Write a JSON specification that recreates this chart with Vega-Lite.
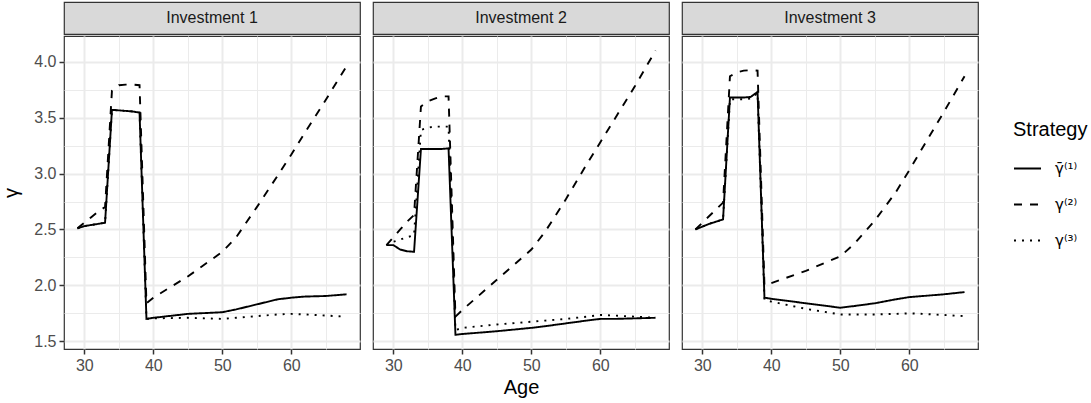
{
  "$schema": "https://vega.github.io/schema/vega-lite/v6.json",
  "padding": {"left": 1, "top": 1, "right": 0, "bottom": 2},
  "background": "white",
  "config": {
    "font": "Liberation Sans",
    "axis": {"domain": false, "gridColor": "#EBEBEB", "tickColor": "#333333", "tickSize": 5, "tickWidth": 1.5, "labelFontSize": 16, "labelColor": "#4D4D4D", "titleFontSize": 20, "titleFontWeight": "normal", "titleColor": "#000000", "labelPadding": 3},
    "view": {"stroke": "#333333", "strokeWidth": 1.2},
    "concat": {"spacing": 11}
  },
  "datasets": {
    "d": [
      {"panel": "Investment 1", "strategy": "γ̄⁽¹⁾", "age": 29, "gamma": 2.51},
      {"panel": "Investment 1", "strategy": "γ̄⁽¹⁾", "age": 30, "gamma": 2.53},
      {"panel": "Investment 1", "strategy": "γ̄⁽¹⁾", "age": 31, "gamma": 2.54},
      {"panel": "Investment 1", "strategy": "γ̄⁽¹⁾", "age": 32, "gamma": 2.55},
      {"panel": "Investment 1", "strategy": "γ̄⁽¹⁾", "age": 33, "gamma": 2.56},
      {"panel": "Investment 1", "strategy": "γ̄⁽¹⁾", "age": 34, "gamma": 3.57},
      {"panel": "Investment 1", "strategy": "γ̄⁽¹⁾", "age": 35, "gamma": 3.565},
      {"panel": "Investment 1", "strategy": "γ̄⁽¹⁾", "age": 36, "gamma": 3.56},
      {"panel": "Investment 1", "strategy": "γ̄⁽¹⁾", "age": 37, "gamma": 3.555},
      {"panel": "Investment 1", "strategy": "γ̄⁽¹⁾", "age": 38, "gamma": 3.545},
      {"panel": "Investment 1", "strategy": "γ̄⁽¹⁾", "age": 39, "gamma": 1.70},
      {"panel": "Investment 1", "strategy": "γ̄⁽¹⁾", "age": 40, "gamma": 1.71},
      {"panel": "Investment 1", "strategy": "γ̄⁽¹⁾", "age": 45, "gamma": 1.745},
      {"panel": "Investment 1", "strategy": "γ̄⁽¹⁾", "age": 50, "gamma": 1.76},
      {"panel": "Investment 1", "strategy": "γ̄⁽¹⁾", "age": 52, "gamma": 1.785},
      {"panel": "Investment 1", "strategy": "γ̄⁽¹⁾", "age": 55, "gamma": 1.83},
      {"panel": "Investment 1", "strategy": "γ̄⁽¹⁾", "age": 58, "gamma": 1.875},
      {"panel": "Investment 1", "strategy": "γ̄⁽¹⁾", "age": 60, "gamma": 1.89},
      {"panel": "Investment 1", "strategy": "γ̄⁽¹⁾", "age": 62, "gamma": 1.90},
      {"panel": "Investment 1", "strategy": "γ̄⁽¹⁾", "age": 65, "gamma": 1.905},
      {"panel": "Investment 1", "strategy": "γ̄⁽¹⁾", "age": 68, "gamma": 1.92},

      {"panel": "Investment 1", "strategy": "γ⁽²⁾", "age": 29, "gamma": 2.51},
      {"panel": "Investment 1", "strategy": "γ⁽²⁾", "age": 30, "gamma": 2.56},
      {"panel": "Investment 1", "strategy": "γ⁽²⁾", "age": 31, "gamma": 2.61},
      {"panel": "Investment 1", "strategy": "γ⁽²⁾", "age": 32, "gamma": 2.66},
      {"panel": "Investment 1", "strategy": "γ⁽²⁾", "age": 33, "gamma": 2.70},
      {"panel": "Investment 1", "strategy": "γ⁽²⁾", "age": 34, "gamma": 3.74},
      {"panel": "Investment 1", "strategy": "γ⁽²⁾", "age": 35, "gamma": 3.79},
      {"panel": "Investment 1", "strategy": "γ⁽²⁾", "age": 36, "gamma": 3.795},
      {"panel": "Investment 1", "strategy": "γ⁽²⁾", "age": 37, "gamma": 3.795},
      {"panel": "Investment 1", "strategy": "γ⁽²⁾", "age": 38, "gamma": 3.79},
      {"panel": "Investment 1", "strategy": "γ⁽²⁾", "age": 39, "gamma": 1.84},
      {"panel": "Investment 1", "strategy": "γ⁽²⁾", "age": 40, "gamma": 1.89},
      {"panel": "Investment 1", "strategy": "γ⁽²⁾", "age": 45, "gamma": 2.08},
      {"panel": "Investment 1", "strategy": "γ⁽²⁾", "age": 50, "gamma": 2.30},
      {"panel": "Investment 1", "strategy": "γ⁽²⁾", "age": 52, "gamma": 2.43},
      {"panel": "Investment 1", "strategy": "γ⁽²⁾", "age": 55, "gamma": 2.70},
      {"panel": "Investment 1", "strategy": "γ⁽²⁾", "age": 58, "gamma": 2.98},
      {"panel": "Investment 1", "strategy": "γ⁽²⁾", "age": 60, "gamma": 3.17},
      {"panel": "Investment 1", "strategy": "γ⁽²⁾", "age": 62, "gamma": 3.37},
      {"panel": "Investment 1", "strategy": "γ⁽²⁾", "age": 65, "gamma": 3.66},
      {"panel": "Investment 1", "strategy": "γ⁽²⁾", "age": 68, "gamma": 3.96},

      {"panel": "Investment 1", "strategy": "γ⁽³⁾", "age": 29, "gamma": 2.51},
      {"panel": "Investment 1", "strategy": "γ⁽³⁾", "age": 30, "gamma": 2.53},
      {"panel": "Investment 1", "strategy": "γ⁽³⁾", "age": 31, "gamma": 2.54},
      {"panel": "Investment 1", "strategy": "γ⁽³⁾", "age": 32, "gamma": 2.55},
      {"panel": "Investment 1", "strategy": "γ⁽³⁾", "age": 33, "gamma": 2.56},
      {"panel": "Investment 1", "strategy": "γ⁽³⁾", "age": 34, "gamma": 3.57},
      {"panel": "Investment 1", "strategy": "γ⁽³⁾", "age": 35, "gamma": 3.565},
      {"panel": "Investment 1", "strategy": "γ⁽³⁾", "age": 36, "gamma": 3.56},
      {"panel": "Investment 1", "strategy": "γ⁽³⁾", "age": 37, "gamma": 3.555},
      {"panel": "Investment 1", "strategy": "γ⁽³⁾", "age": 38, "gamma": 3.545},
      {"panel": "Investment 1", "strategy": "γ⁽³⁾", "age": 39, "gamma": 1.70},
      {"panel": "Investment 1", "strategy": "γ⁽³⁾", "age": 40, "gamma": 1.705},
      {"panel": "Investment 1", "strategy": "γ⁽³⁾", "age": 45, "gamma": 1.71},
      {"panel": "Investment 1", "strategy": "γ⁽³⁾", "age": 50, "gamma": 1.70},
      {"panel": "Investment 1", "strategy": "γ⁽³⁾", "age": 52, "gamma": 1.71},
      {"panel": "Investment 1", "strategy": "γ⁽³⁾", "age": 55, "gamma": 1.725},
      {"panel": "Investment 1", "strategy": "γ⁽³⁾", "age": 58, "gamma": 1.74},
      {"panel": "Investment 1", "strategy": "γ⁽³⁾", "age": 60, "gamma": 1.745},
      {"panel": "Investment 1", "strategy": "γ⁽³⁾", "age": 62, "gamma": 1.74},
      {"panel": "Investment 1", "strategy": "γ⁽³⁾", "age": 65, "gamma": 1.73},
      {"panel": "Investment 1", "strategy": "γ⁽³⁾", "age": 68, "gamma": 1.72},

      {"panel": "Investment 2", "strategy": "γ̄⁽¹⁾", "age": 29, "gamma": 2.36},
      {"panel": "Investment 2", "strategy": "γ̄⁽¹⁾", "age": 30, "gamma": 2.36},
      {"panel": "Investment 2", "strategy": "γ̄⁽¹⁾", "age": 31, "gamma": 2.32},
      {"panel": "Investment 2", "strategy": "γ̄⁽¹⁾", "age": 32, "gamma": 2.305},
      {"panel": "Investment 2", "strategy": "γ̄⁽¹⁾", "age": 33, "gamma": 2.30},
      {"panel": "Investment 2", "strategy": "γ̄⁽¹⁾", "age": 34, "gamma": 3.22},
      {"panel": "Investment 2", "strategy": "γ̄⁽¹⁾", "age": 35, "gamma": 3.22},
      {"panel": "Investment 2", "strategy": "γ̄⁽¹⁾", "age": 36, "gamma": 3.22},
      {"panel": "Investment 2", "strategy": "γ̄⁽¹⁾", "age": 37, "gamma": 3.22},
      {"panel": "Investment 2", "strategy": "γ̄⁽¹⁾", "age": 38, "gamma": 3.225},
      {"panel": "Investment 2", "strategy": "γ̄⁽¹⁾", "age": 39, "gamma": 1.558},
      {"panel": "Investment 2", "strategy": "γ̄⁽¹⁾", "age": 40, "gamma": 1.565},
      {"panel": "Investment 2", "strategy": "γ̄⁽¹⁾", "age": 45, "gamma": 1.59},
      {"panel": "Investment 2", "strategy": "γ̄⁽¹⁾", "age": 50, "gamma": 1.62},
      {"panel": "Investment 2", "strategy": "γ̄⁽¹⁾", "age": 52, "gamma": 1.635},
      {"panel": "Investment 2", "strategy": "γ̄⁽¹⁾", "age": 55, "gamma": 1.66},
      {"panel": "Investment 2", "strategy": "γ̄⁽¹⁾", "age": 58, "gamma": 1.685},
      {"panel": "Investment 2", "strategy": "γ̄⁽¹⁾", "age": 60, "gamma": 1.70},
      {"panel": "Investment 2", "strategy": "γ̄⁽¹⁾", "age": 62, "gamma": 1.70},
      {"panel": "Investment 2", "strategy": "γ̄⁽¹⁾", "age": 65, "gamma": 1.705},
      {"panel": "Investment 2", "strategy": "γ̄⁽¹⁾", "age": 68, "gamma": 1.71},

      {"panel": "Investment 2", "strategy": "γ⁽²⁾", "age": 29, "gamma": 2.36},
      {"panel": "Investment 2", "strategy": "γ⁽²⁾", "age": 30, "gamma": 2.43},
      {"panel": "Investment 2", "strategy": "γ⁽²⁾", "age": 31, "gamma": 2.50},
      {"panel": "Investment 2", "strategy": "γ⁽²⁾", "age": 32, "gamma": 2.57},
      {"panel": "Investment 2", "strategy": "γ⁽²⁾", "age": 33, "gamma": 2.63},
      {"panel": "Investment 2", "strategy": "γ⁽²⁾", "age": 34, "gamma": 3.60},
      {"panel": "Investment 2", "strategy": "γ⁽²⁾", "age": 35, "gamma": 3.645},
      {"panel": "Investment 2", "strategy": "γ⁽²⁾", "age": 36, "gamma": 3.67},
      {"panel": "Investment 2", "strategy": "γ⁽²⁾", "age": 37, "gamma": 3.69},
      {"panel": "Investment 2", "strategy": "γ⁽²⁾", "age": 38, "gamma": 3.69},
      {"panel": "Investment 2", "strategy": "γ⁽²⁾", "age": 39, "gamma": 1.72},
      {"panel": "Investment 2", "strategy": "γ⁽²⁾", "age": 40, "gamma": 1.78},
      {"panel": "Investment 2", "strategy": "γ⁽²⁾", "age": 45, "gamma": 2.05},
      {"panel": "Investment 2", "strategy": "γ⁽²⁾", "age": 50, "gamma": 2.32},
      {"panel": "Investment 2", "strategy": "γ⁽²⁾", "age": 52, "gamma": 2.48},
      {"panel": "Investment 2", "strategy": "γ⁽²⁾", "age": 55, "gamma": 2.77},
      {"panel": "Investment 2", "strategy": "γ⁽²⁾", "age": 58, "gamma": 3.08},
      {"panel": "Investment 2", "strategy": "γ⁽²⁾", "age": 60, "gamma": 3.28},
      {"panel": "Investment 2", "strategy": "γ⁽²⁾", "age": 62, "gamma": 3.48},
      {"panel": "Investment 2", "strategy": "γ⁽²⁾", "age": 65, "gamma": 3.78},
      {"panel": "Investment 2", "strategy": "γ⁽²⁾", "age": 68, "gamma": 4.10},

      {"panel": "Investment 2", "strategy": "γ⁽³⁾", "age": 29, "gamma": 2.36},
      {"panel": "Investment 2", "strategy": "γ⁽³⁾", "age": 30, "gamma": 2.39},
      {"panel": "Investment 2", "strategy": "γ⁽³⁾", "age": 31, "gamma": 2.41},
      {"panel": "Investment 2", "strategy": "γ⁽³⁾", "age": 32, "gamma": 2.43},
      {"panel": "Investment 2", "strategy": "γ⁽³⁾", "age": 33, "gamma": 2.45},
      {"panel": "Investment 2", "strategy": "γ⁽³⁾", "age": 34, "gamma": 3.39},
      {"panel": "Investment 2", "strategy": "γ⁽³⁾", "age": 35, "gamma": 3.41},
      {"panel": "Investment 2", "strategy": "γ⁽³⁾", "age": 36, "gamma": 3.42},
      {"panel": "Investment 2", "strategy": "γ⁽³⁾", "age": 37, "gamma": 3.42},
      {"panel": "Investment 2", "strategy": "γ⁽³⁾", "age": 38, "gamma": 3.42},
      {"panel": "Investment 2", "strategy": "γ⁽³⁾", "age": 39, "gamma": 1.60},
      {"panel": "Investment 2", "strategy": "γ⁽³⁾", "age": 40, "gamma": 1.62},
      {"panel": "Investment 2", "strategy": "γ⁽³⁾", "age": 45, "gamma": 1.65},
      {"panel": "Investment 2", "strategy": "γ⁽³⁾", "age": 50, "gamma": 1.675},
      {"panel": "Investment 2", "strategy": "γ⁽³⁾", "age": 52, "gamma": 1.685},
      {"panel": "Investment 2", "strategy": "γ⁽³⁾", "age": 55, "gamma": 1.70},
      {"panel": "Investment 2", "strategy": "γ⁽³⁾", "age": 58, "gamma": 1.72},
      {"panel": "Investment 2", "strategy": "γ⁽³⁾", "age": 60, "gamma": 1.735},
      {"panel": "Investment 2", "strategy": "γ⁽³⁾", "age": 62, "gamma": 1.73},
      {"panel": "Investment 2", "strategy": "γ⁽³⁾", "age": 65, "gamma": 1.72},
      {"panel": "Investment 2", "strategy": "γ⁽³⁾", "age": 68, "gamma": 1.71},

      {"panel": "Investment 3", "strategy": "γ̄⁽¹⁾", "age": 29, "gamma": 2.50},
      {"panel": "Investment 3", "strategy": "γ̄⁽¹⁾", "age": 30, "gamma": 2.525},
      {"panel": "Investment 3", "strategy": "γ̄⁽¹⁾", "age": 31, "gamma": 2.55},
      {"panel": "Investment 3", "strategy": "γ̄⁽¹⁾", "age": 32, "gamma": 2.57},
      {"panel": "Investment 3", "strategy": "γ̄⁽¹⁾", "age": 33, "gamma": 2.59},
      {"panel": "Investment 3", "strategy": "γ̄⁽¹⁾", "age": 34, "gamma": 3.68},
      {"panel": "Investment 3", "strategy": "γ̄⁽¹⁾", "age": 35, "gamma": 3.68},
      {"panel": "Investment 3", "strategy": "γ̄⁽¹⁾", "age": 36, "gamma": 3.68},
      {"panel": "Investment 3", "strategy": "γ̄⁽¹⁾", "age": 37, "gamma": 3.685},
      {"panel": "Investment 3", "strategy": "γ̄⁽¹⁾", "age": 38, "gamma": 3.73},
      {"panel": "Investment 3", "strategy": "γ̄⁽¹⁾", "age": 39, "gamma": 1.89},
      {"panel": "Investment 3", "strategy": "γ̄⁽¹⁾", "age": 40, "gamma": 1.88},
      {"panel": "Investment 3", "strategy": "γ̄⁽¹⁾", "age": 45, "gamma": 1.84},
      {"panel": "Investment 3", "strategy": "γ̄⁽¹⁾", "age": 50, "gamma": 1.80},
      {"panel": "Investment 3", "strategy": "γ̄⁽¹⁾", "age": 52, "gamma": 1.815},
      {"panel": "Investment 3", "strategy": "γ̄⁽¹⁾", "age": 55, "gamma": 1.84},
      {"panel": "Investment 3", "strategy": "γ̄⁽¹⁾", "age": 58, "gamma": 1.875},
      {"panel": "Investment 3", "strategy": "γ̄⁽¹⁾", "age": 60, "gamma": 1.895},
      {"panel": "Investment 3", "strategy": "γ̄⁽¹⁾", "age": 62, "gamma": 1.905},
      {"panel": "Investment 3", "strategy": "γ̄⁽¹⁾", "age": 65, "gamma": 1.92},
      {"panel": "Investment 3", "strategy": "γ̄⁽¹⁾", "age": 68, "gamma": 1.94},

      {"panel": "Investment 3", "strategy": "γ⁽²⁾", "age": 29, "gamma": 2.50},
      {"panel": "Investment 3", "strategy": "γ⁽²⁾", "age": 30, "gamma": 2.56},
      {"panel": "Investment 3", "strategy": "γ⁽²⁾", "age": 31, "gamma": 2.62},
      {"panel": "Investment 3", "strategy": "γ⁽²⁾", "age": 32, "gamma": 2.68},
      {"panel": "Investment 3", "strategy": "γ⁽²⁾", "age": 33, "gamma": 2.74},
      {"panel": "Investment 3", "strategy": "γ⁽²⁾", "age": 34, "gamma": 3.87},
      {"panel": "Investment 3", "strategy": "γ⁽²⁾", "age": 35, "gamma": 3.905},
      {"panel": "Investment 3", "strategy": "γ⁽²⁾", "age": 36, "gamma": 3.92},
      {"panel": "Investment 3", "strategy": "γ⁽²⁾", "age": 37, "gamma": 3.925},
      {"panel": "Investment 3", "strategy": "γ⁽²⁾", "age": 38, "gamma": 3.92},
      {"panel": "Investment 3", "strategy": "γ⁽²⁾", "age": 39, "gamma": 2.00},
      {"panel": "Investment 3", "strategy": "γ⁽²⁾", "age": 40, "gamma": 2.02},
      {"panel": "Investment 3", "strategy": "γ⁽²⁾", "age": 45, "gamma": 2.13},
      {"panel": "Investment 3", "strategy": "γ⁽²⁾", "age": 50, "gamma": 2.26},
      {"panel": "Investment 3", "strategy": "γ⁽²⁾", "age": 52, "gamma": 2.37},
      {"panel": "Investment 3", "strategy": "γ⁽²⁾", "age": 55, "gamma": 2.58},
      {"panel": "Investment 3", "strategy": "γ⁽²⁾", "age": 58, "gamma": 2.83},
      {"panel": "Investment 3", "strategy": "γ⁽²⁾", "age": 60, "gamma": 3.03},
      {"panel": "Investment 3", "strategy": "γ⁽²⁾", "age": 62, "gamma": 3.24},
      {"panel": "Investment 3", "strategy": "γ⁽²⁾", "age": 65, "gamma": 3.55},
      {"panel": "Investment 3", "strategy": "γ⁽²⁾", "age": 68, "gamma": 3.87},

      {"panel": "Investment 3", "strategy": "γ⁽³⁾", "age": 29, "gamma": 2.50},
      {"panel": "Investment 3", "strategy": "γ⁽³⁾", "age": 30, "gamma": 2.525},
      {"panel": "Investment 3", "strategy": "γ⁽³⁾", "age": 31, "gamma": 2.55},
      {"panel": "Investment 3", "strategy": "γ⁽³⁾", "age": 32, "gamma": 2.57},
      {"panel": "Investment 3", "strategy": "γ⁽³⁾", "age": 33, "gamma": 2.59},
      {"panel": "Investment 3", "strategy": "γ⁽³⁾", "age": 34, "gamma": 3.665},
      {"panel": "Investment 3", "strategy": "γ⁽³⁾", "age": 35, "gamma": 3.665},
      {"panel": "Investment 3", "strategy": "γ⁽³⁾", "age": 36, "gamma": 3.665},
      {"panel": "Investment 3", "strategy": "γ⁽³⁾", "age": 37, "gamma": 3.67},
      {"panel": "Investment 3", "strategy": "γ⁽³⁾", "age": 38, "gamma": 3.72},
      {"panel": "Investment 3", "strategy": "γ⁽³⁾", "age": 39, "gamma": 1.87},
      {"panel": "Investment 3", "strategy": "γ⁽³⁾", "age": 40, "gamma": 1.855},
      {"panel": "Investment 3", "strategy": "γ⁽³⁾", "age": 45, "gamma": 1.79},
      {"panel": "Investment 3", "strategy": "γ⁽³⁾", "age": 50, "gamma": 1.74},
      {"panel": "Investment 3", "strategy": "γ⁽³⁾", "age": 52, "gamma": 1.74},
      {"panel": "Investment 3", "strategy": "γ⁽³⁾", "age": 55, "gamma": 1.74},
      {"panel": "Investment 3", "strategy": "γ⁽³⁾", "age": 58, "gamma": 1.745},
      {"panel": "Investment 3", "strategy": "γ⁽³⁾", "age": 60, "gamma": 1.75},
      {"panel": "Investment 3", "strategy": "γ⁽³⁾", "age": 62, "gamma": 1.745},
      {"panel": "Investment 3", "strategy": "γ⁽³⁾", "age": 65, "gamma": 1.735},
      {"panel": "Investment 3", "strategy": "γ⁽³⁾", "age": 68, "gamma": 1.725}
    ]
  },
  "hconcat": [
    {
      "spacing": 0,
      "vconcat": [
        {
          "width": 296, "height": 32,
          "view": {"fill": "#D9D9D9", "stroke": "#333333", "strokeWidth": 1.2},
          "data": {"values": [{"label": "Investment 1"}]},
          "mark": {"type": "text", "fontSize": 16, "color": "#1A1A1A"},
          "encoding": {"text": {"field": "label", "type": "nominal"}}
        },
        {
          "width": 296, "height": 313,
          "data": {"name": "d"},
          "transform": [{"filter": "datum.panel === 'Investment 1'"}],
          "mark": {"type": "line", "color": "black", "strokeWidth": 1.9, "clip": true},
          "encoding": {
            "x": {"field": "age", "type": "quantitative", "scale": {"domain": [27.05, 69.95], "nice": false, "zero": false},
              "axis": {"values": [30, 35, 40, 45, 50, 55, 60, 65], "labelExpr": "datum.value % 10 === 0 ? datum.label : ''", "tickOpacity": {"condition": {"test": "datum.value % 10 === 0", "value": 1}, "value": 0}, "gridWidth": {"condition": {"test": "datum.value % 10 === 0", "value": 2}, "value": 1}, "labelOverlap": false, "labelFlush": false, "title": null}},
            "y": {"field": "gamma", "type": "quantitative", "scale": {"domain": [1.431, 4.23], "nice": false, "zero": false},
              "axis": {"values": [1.5, 1.75, 2, 2.25, 2.5, 2.75, 3, 3.25, 3.5, 3.75, 4], "format": ".1f", "labelExpr": "(datum.value * 2) % 1 === 0 ? datum.label : ''", "tickOpacity": {"condition": {"test": "(datum.value * 2) % 1 === 0", "value": 1}, "value": 0}, "gridWidth": {"condition": {"test": "(datum.value * 2) % 1 === 0", "value": 2}, "value": 1}, "labelOverlap": false, "labelFlush": false, "title": "γ", "titlePadding": 12}},
            "strokeDash": {"field": "strategy", "type": "nominal", "scale": {"domain": ["γ̄⁽¹⁾", "γ⁽²⁾", "γ⁽³⁾"], "range": [[1, 0], [8, 8], [2, 6]]},
              "legend": {"title": "Strategy", "orient": "none", "legendX": 949, "legendY": 118, "titleFontSize": 20, "titleFontWeight": "normal", "titleColor": "black", "titlePadding": 14, "labelFont": "DejaVu Sans", "labelFontSize": 15, "labelColor": "black", "symbolSize": 729, "symbolStrokeWidth": 2, "symbolStrokeColor": "black", "symbolType": "stroke", "rowPadding": 13, "labelOffset": 13}}
          }
        }
      ]
    },
    {
      "spacing": 0,
      "vconcat": [
        {
          "width": 296, "height": 32,
          "view": {"fill": "#D9D9D9", "stroke": "#333333", "strokeWidth": 1.2},
          "data": {"values": [{"label": "Investment 2"}]},
          "mark": {"type": "text", "fontSize": 16, "color": "#1A1A1A"},
          "encoding": {"text": {"field": "label", "type": "nominal"}}
        },
        {
          "width": 296, "height": 313,
          "data": {"name": "d"},
          "transform": [{"filter": "datum.panel === 'Investment 2'"}],
          "mark": {"type": "line", "color": "black", "strokeWidth": 1.9, "clip": true},
          "encoding": {
            "x": {"field": "age", "type": "quantitative", "scale": {"domain": [27.05, 69.95], "nice": false, "zero": false},
              "axis": {"values": [30, 35, 40, 45, 50, 55, 60, 65], "labelExpr": "datum.value % 10 === 0 ? datum.label : ''", "tickOpacity": {"condition": {"test": "datum.value % 10 === 0", "value": 1}, "value": 0}, "gridWidth": {"condition": {"test": "datum.value % 10 === 0", "value": 2}, "value": 1}, "labelOverlap": false, "labelFlush": false, "title": "Age", "titlePadding": 4}},
            "y": {"field": "gamma", "type": "quantitative", "scale": {"domain": [1.431, 4.23], "nice": false, "zero": false},
              "axis": {"values": [1.5, 1.75, 2, 2.25, 2.5, 2.75, 3, 3.25, 3.5, 3.75, 4], "labels": false, "ticks": false, "gridWidth": {"condition": {"test": "(datum.value * 2) % 1 === 0", "value": 2}, "value": 1}, "title": null}},
            "strokeDash": {"field": "strategy", "type": "nominal", "scale": {"domain": ["γ̄⁽¹⁾", "γ⁽²⁾", "γ⁽³⁾"], "range": [[1, 0], [8, 8], [2, 6]]},
              "legend": {"title": "Strategy", "orient": "none", "legendX": 949, "legendY": 118, "titleFontSize": 20, "titleFontWeight": "normal", "titleColor": "black", "titlePadding": 14, "labelFont": "DejaVu Sans", "labelFontSize": 15, "labelColor": "black", "symbolSize": 729, "symbolStrokeWidth": 2, "symbolStrokeColor": "black", "symbolType": "stroke", "rowPadding": 13, "labelOffset": 13}}
          }
        }
      ]
    },
    {
      "spacing": 0,
      "vconcat": [
        {
          "width": 296, "height": 32,
          "view": {"fill": "#D9D9D9", "stroke": "#333333", "strokeWidth": 1.2},
          "data": {"values": [{"label": "Investment 3"}]},
          "mark": {"type": "text", "fontSize": 16, "color": "#1A1A1A"},
          "encoding": {"text": {"field": "label", "type": "nominal"}}
        },
        {
          "width": 296, "height": 313,
          "data": {"name": "d"},
          "transform": [{"filter": "datum.panel === 'Investment 3'"}],
          "mark": {"type": "line", "color": "black", "strokeWidth": 1.9, "clip": true},
          "encoding": {
            "x": {"field": "age", "type": "quantitative", "scale": {"domain": [27.05, 69.95], "nice": false, "zero": false},
              "axis": {"values": [30, 35, 40, 45, 50, 55, 60, 65], "labelExpr": "datum.value % 10 === 0 ? datum.label : ''", "tickOpacity": {"condition": {"test": "datum.value % 10 === 0", "value": 1}, "value": 0}, "gridWidth": {"condition": {"test": "datum.value % 10 === 0", "value": 2}, "value": 1}, "labelOverlap": false, "labelFlush": false, "title": null}},
            "y": {"field": "gamma", "type": "quantitative", "scale": {"domain": [1.431, 4.23], "nice": false, "zero": false},
              "axis": {"values": [1.5, 1.75, 2, 2.25, 2.5, 2.75, 3, 3.25, 3.5, 3.75, 4], "labels": false, "ticks": false, "gridWidth": {"condition": {"test": "(datum.value * 2) % 1 === 0", "value": 2}, "value": 1}, "title": null}},
            "strokeDash": {"field": "strategy", "type": "nominal", "scale": {"domain": ["γ̄⁽¹⁾", "γ⁽²⁾", "γ⁽³⁾"], "range": [[1, 0], [8, 8], [2, 6]]},
              "legend": {"title": "Strategy", "orient": "none", "legendX": 949, "legendY": 118, "titleFontSize": 20, "titleFontWeight": "normal", "titleColor": "black", "titlePadding": 14, "labelFont": "DejaVu Sans", "labelFontSize": 15, "labelColor": "black", "symbolSize": 729, "symbolStrokeWidth": 2, "symbolStrokeColor": "black", "symbolType": "stroke", "rowPadding": 13, "labelOffset": 13}}
          }
        }
      ]
    }
  ]
}
